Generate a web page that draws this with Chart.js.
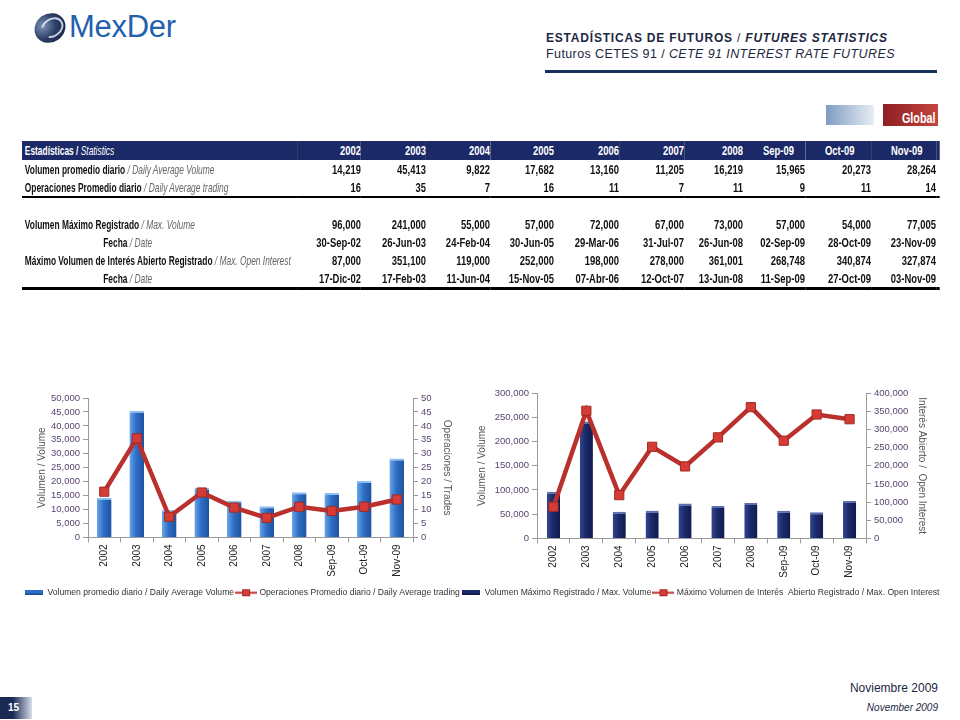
<!DOCTYPE html>
<html>
<head>
<meta charset="utf-8">
<script src="https://cdn.jsdelivr.net/npm/chart.js"></script>
<style>
  body { margin: 0; background: #fff; font-family: "Liberation Sans", Arial, sans-serif; }
  #slide { position: relative; width: 960px; height: 720px; overflow: hidden; }
  .abs { position: absolute; }
  #logoBall {
    left: 34px; top: 13px; width: 32px; height: 30px; border-radius: 50%;
    transform: rotate(-35deg) scaleY(0.95);
    background: radial-gradient(circle at 35% 30%, #7f93b8 0%, #2d3f68 45%, #101a33 100%);
  }
  #logoBall:after {
    content: ""; position: absolute; left: 6px; top: 6px; width: 20px; height: 16px;
    border: 2px solid rgba(230,236,248,0.85); border-radius: 50%; border-left-color: transparent;
  }
  #logoText { left: 69px; top: 9px; font-size: 31px; color: #2460ad; letter-spacing: -0.3px; }
  #title1 { left: 546px; top: 31px; font-size: 12px; color: #1d2742; letter-spacing: 0.8px; }
  #title1 b, #title1 i { font-weight: bold; }
  #title2 { left: 546px; top: 47px; font-size: 12.5px; color: #1d2742; letter-spacing: 0.4px; }
  #titleRule { left: 545px; top: 70px; width: 392px; height: 3px; background: #15305a; }
  #badge { left: 826px; top: 104px; width: 112px; height: 22px; }
  #badge .fade { position: absolute; left: 0; top: 1px; width: 48px; height: 20px;
    background: linear-gradient(to right, #7e9cc0, #e8eef5); }
  #badge .red { position: absolute; left: 57px; top: 0; width: 55px; height: 22px;
    background: linear-gradient(to right, #8f1f22, #c4453f); color: #fff;
    font-size: 15px; font-weight: bold; text-align: right; line-height: 27px; box-sizing: border-box; }
  #badge .red span { display: inline-block; transform: scaleX(0.72); transform-origin: right; padding-right: 3px; }
  /* tabla dibujada mas ancha y comprimida para imitar una fuente estrecha */
  table#stats { left: 22px; top: 141px; width: 1311.45px; border-collapse: collapse; table-layout: fixed;
    transform: scaleX(0.7); transform-origin: 0 0;
    font-family: "Liberation Sans", Arial, sans-serif; font-size: 13.5px; color: #111; }
  #stats td { padding: 0; white-space: nowrap; overflow: hidden; text-align: right; font-weight: bold; }
  #stats td.lab { text-align: left; padding-left: 4.3px; overflow: visible; }
  #stats td.lab span { display: inline-block; transform: scaleX(0.887); transform-origin: 0 50%; }
  #stats td.ind { padding-left: 115.7px; }
  #stats i { font-weight: normal; color: #666; }
  #stats tr.hd td { background: #1b2966; color: #fff; height: 19px; }
  #stats tr.hd i { color: #fff; }
  #stats tr.hd td.mo { text-align: left; padding-left: 28.6px; }
  #stats tr.r td { height: 18px; }
  #stats tr.sep td { border-bottom: 2px solid #000; }
  #stats tr.sp td { height: 17px; }
  #stats tr.end td { border-bottom: 3px solid #000; }
  .chartBox { position: absolute; }
  #foot1 { right: 22px; top: 681px; font-size: 12px; color: #1d2742; }
  #foot2 { right: 22px; top: 702px; font-size: 10px; color: #1d2742; font-style: italic; }
  #pageNo { left: 0; top: 697px; width: 32px; height: 22px; color: #fff; font-size: 10px; font-weight: bold;
    background: linear-gradient(to right, #1b2a55 40%, #d7dde8); line-height: 22px; padding-left: 8px; box-sizing: border-box; }
</style>
</head>
<body>
<div id="slide">
  <div id="logoBall" class="abs"></div>
  <div id="logoText" class="abs">MexDer</div>
  <div id="title1" class="abs"><b>ESTADÍSTICAS DE FUTUROS</b> / <i>FUTURES STATISTICS</i></div>
  <div id="title2" class="abs">Futuros CETES 91 / <i>CETE 91 INTEREST RATE FUTURES</i></div>
  <div id="titleRule" class="abs"></div>
  <div id="badge" class="abs"><div class="fade"></div><div class="red"><span>Global</span></div></div>

  <table id="stats" class="abs">
    <colgroup>
      <col style="width:392.86px"><col style="width:91.43px"><col style="width:92.86px"><col style="width:91.43px">
      <col style="width:91.43px"><col style="width:92.86px"><col style="width:92.86px"><col style="width:84.29px">
      <col style="width:88.57px"><col style="width:94.29px"><col style="width:92.86px"><col style="width:5.71px">
    </colgroup>
    <tbody id="statsBody"></tbody>
  </table>

  <div class="chartBox" style="left:15px;top:385px;width:455px;height:222px"><canvas id="chartVol"></canvas></div>
  <div class="chartBox" style="left:457px;top:380px;width:488px;height:227px"><canvas id="chartMax"></canvas></div>

  <div id="foot1" class="abs">Noviembre 2009</div>
  <div id="foot2" class="abs">November 2009</div>
  <div id="pageNo" class="abs">15</div>
</div>

<script>
// periodos
const periods = ['2002', '2003', '2004', '2005', '2006', '2007', '2008', 'Sep-09', 'Oct-09', 'Nov-09'];

// volumen promedio diario y operaciones promedio diario
const dailyVolume = [14219, 45413, 9822, 17682, 13160, 11205, 16219, 15965, 20273, 28264];
const dailyTrades = [16.4, 35.5, 7.4, 16.1, 10.7, 7.0, 11.0, 9.5, 11.0, 13.6];
const dailyTradesTable = [16, 35, 7, 16, 11, 7, 11, 9, 11, 14];

// volumen maximo e interes abierto maximo
const maxVolume = [96000, 241000, 55000, 57000, 72000, 67000, 73000, 57000, 54000, 77005];
const maxVolumeDate = ['30-Sep-02', '26-Jun-03', '24-Feb-04', '30-Jun-05', '29-Mar-06', '31-Jul-07', '26-Jun-08', '02-Sep-09', '28-Oct-09', '23-Nov-09'];
const maxOpenInterest = [87000, 351100, 119000, 252000, 198000, 278000, 361001, 268748, 340874, 327874];
const maxOpenInterestDate = ['17-Dic-02', '17-Feb-03', '11-Jun-04', '15-Nov-05', '07-Abr-06', '12-Oct-07', '13-Jun-08', '11-Sep-09', '27-Oct-09', '03-Nov-09'];

const fmt = v => v.toLocaleString('en-US');

// tabla
const row = (cls, label, vals, labCls) =>
  '<tr class="' + cls + '"><td class="lab ' + (labCls || '') + '"><span>' + label + '</span></td>' +
  vals.map(v => '<td>' + v + '</td>').join('') + '<td></td></tr>';

let html = '<tr class="hd"><td class="lab"><span>Estadísticas / <i>Statistics</i></span></td>' +
  periods.map((p, i) => '<td' + (i > 6 ? ' class="mo"' : '') + '>' + p + '</td>').join('') + '<td></td></tr>';
html += row('r', 'Volumen promedio diario <i>/ Daily Average Volume</i>', dailyVolume.map(fmt));
html += row('r sep', 'Operaciones Promedio diario <i>/ Daily Average trading</i>', dailyTradesTable);
html += '<tr class="sp"><td colspan="12"></td></tr>';
html += row('r', 'Volumen Máximo Registrado <i>/ Max. Volume</i>', maxVolume.map(fmt));
html += row('r', 'Fecha <i>/ Date</i>', maxVolumeDate, 'ind');
html += row('r', 'Máximo Volumen de Interés Abierto Registrado <i>/ Max. Open Interest</i>', maxOpenInterest.map(fmt));
html += row('r end', 'Fecha <i>/ Date</i>', maxOpenInterestDate, 'ind');
document.getElementById('statsBody').innerHTML = html;

// iconos de leyenda
function barIcon(color, edge) {
  const c = document.createElement('canvas');
  c.width = 18; c.height = 5;
  const g = c.getContext('2d');
  g.fillStyle = color; g.fillRect(0, 0, 18, 5);
  g.fillStyle = edge; g.fillRect(0, 3, 18, 2);
  return c;
}
function lineIcon() {
  const c = document.createElement('canvas');
  c.width = 22; c.height = 9;
  const g = c.getContext('2d');
  g.strokeStyle = '#c0312c'; g.lineWidth = 2;
  g.beginPath(); g.moveTo(0, 4.5); g.lineTo(22, 4.5); g.stroke();
  g.fillStyle = '#d63c35'; g.fillRect(7, 1, 8, 7);
  g.strokeStyle = '#9e2a25'; g.lineWidth = 1; g.strokeRect(7.5, 1.5, 7, 6);
  return c;
}

// degradado horizontal por barra
function shadedBar(stops, frac) {
  return ctx => {
    const chart = ctx.chart;
    const x = chart.scales.x;
    if (!x || ctx.dataIndex === undefined) return stops[1];
    const cx = x.getPixelForValue(ctx.dataIndex);
    const w = x.width / periods.length * frac / 2;
    if (!isFinite(cx)) return stops[1];
    const g = chart.ctx.createLinearGradient(cx - w, 0, cx + w, 0);
    g.addColorStop(0, stops[0]);
    g.addColorStop(0.45, stops[1]);
    g.addColorStop(1, stops[2]);
    return g;
  };
}

const tickFont = { family: 'Liberation Sans', size: 9.5 };
const tickColor = '#5a4470';

function buildChart(id, cfg) {
  const scales = {
    x: {
      grid: { drawOnChartArea: false, color: '#9a9a9a', tickLength: 5 },
      border: { color: '#9a9a9a' },
      ticks: { color: '#222', font: { family: 'Liberation Sans', size: 10 }, autoSkip: false, minRotation: 90, maxRotation: 90, padding: 2 },
      afterFit: s => { s.height = cfg.xHeight; }
    },
    y: {
      position: 'left', min: 0, max: cfg.yMax,
      grid: { drawOnChartArea: false, color: '#9a9a9a', tickLength: 5 },
      border: { color: '#9a9a9a' },
      ticks: { stepSize: cfg.yStep, autoSkip: false, color: tickColor, font: tickFont, padding: 3, callback: v => fmt(v) },
      title: { display: true, text: 'Volumen / Volume', color: '#555', font: { family: 'Liberation Sans', size: 10 }, padding: { top: cfg.yTitlePad, bottom: 0 } },
      afterFit: s => { s.width = cfg.yWidth; }
    },
    y1: {
      position: 'right', min: 0, max: cfg.y1Max,
      grid: { drawOnChartArea: false, color: '#9a9a9a', tickLength: 5 },
      border: { color: '#9a9a9a' },
      ticks: { stepSize: cfg.y1Step, autoSkip: false, color: tickColor, font: tickFont, padding: 3, callback: v => fmt(v) },
      title: { display: true, text: cfg.y1Title, color: '#555', font: { family: 'Liberation Sans', size: 10 }, padding: { top: cfg.y1TitlePad, bottom: 0 } },
      afterFit: s => { s.width = cfg.y1Width; }
    }
  };
  return new Chart(document.getElementById(id), {
    type: 'bar',
    data: {
      labels: periods,
      datasets: [
        {
          type: 'line', label: cfg.lineLabel, data: cfg.lineData, yAxisID: 'y1', order: 0,
          borderColor: '#b9302c', borderWidth: 4.5, tension: 0,
          pointStyle: 'rect', pointRadius: 6.5, pointBackgroundColor: '#d63c35',
          pointBorderColor: '#9e2a25', pointBorderWidth: 1
        },
        {
          type: 'bar', label: cfg.barLabel, data: cfg.barData, yAxisID: 'y', order: 1,
          backgroundColor: shadedBar(cfg.barStops, cfg.barFrac),
          borderColor: cfg.barEdge, borderWidth: { top: 2, left: 0, right: 0, bottom: 0 },
          barPercentage: cfg.barFrac, categoryPercentage: 1
        }
      ]
    },
    options: {
      responsive: true,
      maintainAspectRatio: false,
      animation: false,
      layout: { padding: { top: cfg.padTop, left: 0, right: 0, bottom: 0 } },
      plugins: {
        tooltip: { enabled: false },
        legend: {
          position: 'bottom',
          labels: {
            usePointStyle: true, pointStyleWidth: cfg.iconWidth, padding: 3, color: '#333',
            font: { family: 'Liberation Sans', size: 8.6 },
            generateLabels: () => [
              { text: cfg.barLabel, pointStyle: barIcon(cfg.barStops[1], cfg.barStops[2]), fillStyle: cfg.barStops[1], strokeStyle: 'transparent', lineWidth: 0, datasetIndex: 1, fontColor: '#333' },
              { text: cfg.lineLabel, pointStyle: lineIcon(), fillStyle: '#d63c35', strokeStyle: 'transparent', lineWidth: 0, datasetIndex: 0, fontColor: '#333' }
            ]
          }
        }
      },
      scales: scales
    }
  });
}

buildChart('chartVol', {
  barLabel: 'Volumen promedio diario / Daily Average Volume',
  lineLabel: 'Operaciones Promedio diario / Daily Average trading',
  barData: dailyVolume, lineData: dailyTrades,
  yMax: 50000, yStep: 5000, y1Max: 50, y1Step: 5,
  y1Title: 'Operaciones / Trades',
  yWidth: 73, y1Width: 57, yTitlePad: 21, y1TitlePad: 17, padTop: 13, xHeight: 48, iconWidth: 18,
  barStops: ['#6aa6ea', '#2f6fc6', '#1d52a0'], barEdge: '#8cc0f2', barFrac: 0.45
});

buildChart('chartMax', {
  barLabel: 'Volumen Máximo Registrado / Max. Volume',
  lineLabel: 'Máximo Volumen de Interés  Abierto Registrado / Max. Open Interest',
  barData: maxVolume, lineData: maxOpenInterest,
  yMax: 300000, yStep: 50000, y1Max: 400000, y1Step: 50000,
  y1Title: 'Interés Abierto /  Open Interest',
  yWidth: 80, y1Width: 79, yTitlePad: 19, y1TitlePad: 17, padTop: 13, xHeight: 47, iconWidth: 18,
  barStops: ['#34478f', '#1b2a6b', '#111b4c'], barEdge: '#5a6fb0', barFrac: 0.4
});
</script>
</body>
</html>
